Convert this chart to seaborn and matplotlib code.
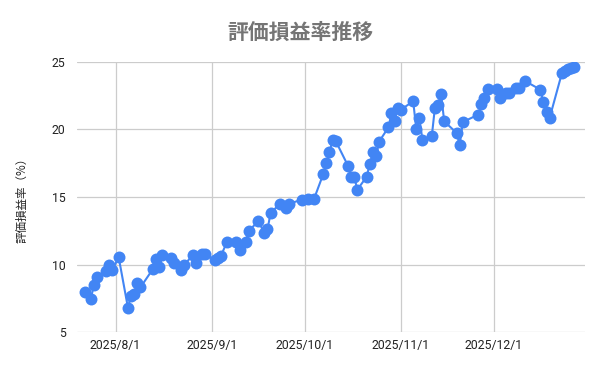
import pandas as pd
import numpy as np
import matplotlib
matplotlib.use("Agg")
import matplotlib.pyplot as plt
import matplotlib.dates as mdates
import seaborn as sns

dates = ["2025-07-22","2025-07-24","2025-07-25","2025-07-26","2025-07-29","2025-07-30","2025-07-31","2025-08-02",
         "2025-08-05","2025-08-06","2025-08-07","2025-08-08","2025-08-09","2025-08-13","2025-08-14","2025-08-15","2025-08-16",
         "2025-08-19","2025-08-20","2025-08-22","2025-08-23","2025-08-26","2025-08-27","2025-08-29","2025-08-30",
         "2025-09-02","2025-09-03","2025-09-04","2025-09-06","2025-09-09","2025-09-10","2025-09-12","2025-09-13",
         "2025-09-16","2025-09-18","2025-09-19","2025-09-20","2025-09-23","2025-09-25","2025-09-26","2025-09-30",
         "2025-10-02","2025-10-04","2025-10-07","2025-10-08","2025-10-09","2025-10-10","2025-10-11",
         "2025-10-15","2025-10-16","2025-10-17","2025-10-18","2025-10-21","2025-10-22","2025-10-23","2025-10-24","2025-10-25",
         "2025-10-28","2025-10-29","2025-10-30","2025-10-31","2025-11-01","2025-11-05","2025-11-06","2025-11-07","2025-11-08",
         "2025-11-11","2025-11-12","2025-11-13","2025-11-14","2025-11-15","2025-11-19","2025-11-20","2025-11-21",
         "2025-11-26","2025-11-27","2025-11-28","2025-11-29","2025-12-02","2025-12-03","2025-12-05","2025-12-06",
         "2025-12-08","2025-12-09","2025-12-11","2025-12-16","2025-12-17","2025-12-18","2025-12-19",
         "2025-12-23","2025-12-24","2025-12-25","2025-12-26","2025-12-27"]

rates = [8.0, 7.45, 8.45, 9.05, 9.5, 9.95, 9.6, 10.55,
         6.8, 7.7, 7.85, 8.6, 8.3, 9.65, 10.4, 9.85, 10.7,
         10.5, 10.1, 9.6, 9.95, 10.7, 10.1, 10.8, 10.75,
         10.3, 10.45, 10.65, 11.7, 11.7, 11.05, 11.7, 12.5,
         13.2, 12.35, 12.6, 13.8, 14.5, 14.15, 14.5, 14.8,
         14.85, 14.85, 16.7, 17.55, 18.35, 19.2, 19.15,
         17.3, 16.5, 16.45, 15.55, 16.5, 17.45, 18.3, 18.0, 19.1,
         20.15, 21.2, 20.65, 21.6, 21.45, 22.1, 20.0, 20.85, 19.2,
         19.5, 21.6, 21.8, 22.65, 20.6, 19.75, 18.85, 20.55,
         21.1, 21.85, 22.35, 23.0, 23.0, 22.3, 22.7, 22.7,
         23.05, 23.1, 23.6, 22.95, 22.0, 21.3, 20.85,
         24.2, 24.35, 24.45, 24.55, 24.6]

tick_dates = ["2025-08-01", "2025-09-01", "2025-10-01", "2025-11-01", "2025-12-01"]
tick_labels = ["2025/8/1", "2025/9/1", "2025/10/1", "2025/11/1", "2025/12/1"]
y_ticks = [5, 10, 15, 20, 25]

title = "評価損益率推移"
ylabel = "評価損益率（%）"

sns.set_theme(style="white")
plt.rcParams['font.family'] = ['Noto Sans CJK JP', 'DejaVu Sans']

df = pd.DataFrame({"date": pd.to_datetime(dates), "rate": rates})

fig = plt.figure(figsize=(6, 3.71), dpi=100)
ax = fig.add_axes([0.128, 0.105, 0.847, 0.728])

sns.lineplot(data=df, x="date", y="rate", ax=ax, color="#4285F4", linewidth=1.5,
             marker="o", markersize=8.6, markeredgewidth=0, markerfacecolor="#4285F4")

ax.set_xlim(pd.Timestamp("2025-07-19 12:00"), pd.Timestamp("2025-12-30 10:00"))
ax.set_ylim(5, 25)
ax.set_yticks(y_ticks)
ax.set_yticklabels([str(t) for t in y_ticks], family="Roboto", fontsize=8.8, color="#222222")
ax.set_xticks(mdates.date2num(pd.to_datetime(tick_dates)))
ax.set_xticklabels(tick_labels, family="Roboto", fontsize=8.8, color="#222222")
ax.tick_params(axis="x", length=0, pad=5)
ax.tick_params(axis="y", length=0, pad=8)

ax.grid(True, color="#cccccc", linewidth=0.9)
ax.set_axisbelow(True)
for s in ax.spines.values():
    s.set_visible(False)

ax.set_xlabel("")
ax.set_ylabel(ylabel, fontsize=8.3, color="#222222", labelpad=17)
fig.suptitle(title, fontsize=15, fontweight="bold", color="#757575", y=0.94)

fig.savefig("out.png", dpi=100)
